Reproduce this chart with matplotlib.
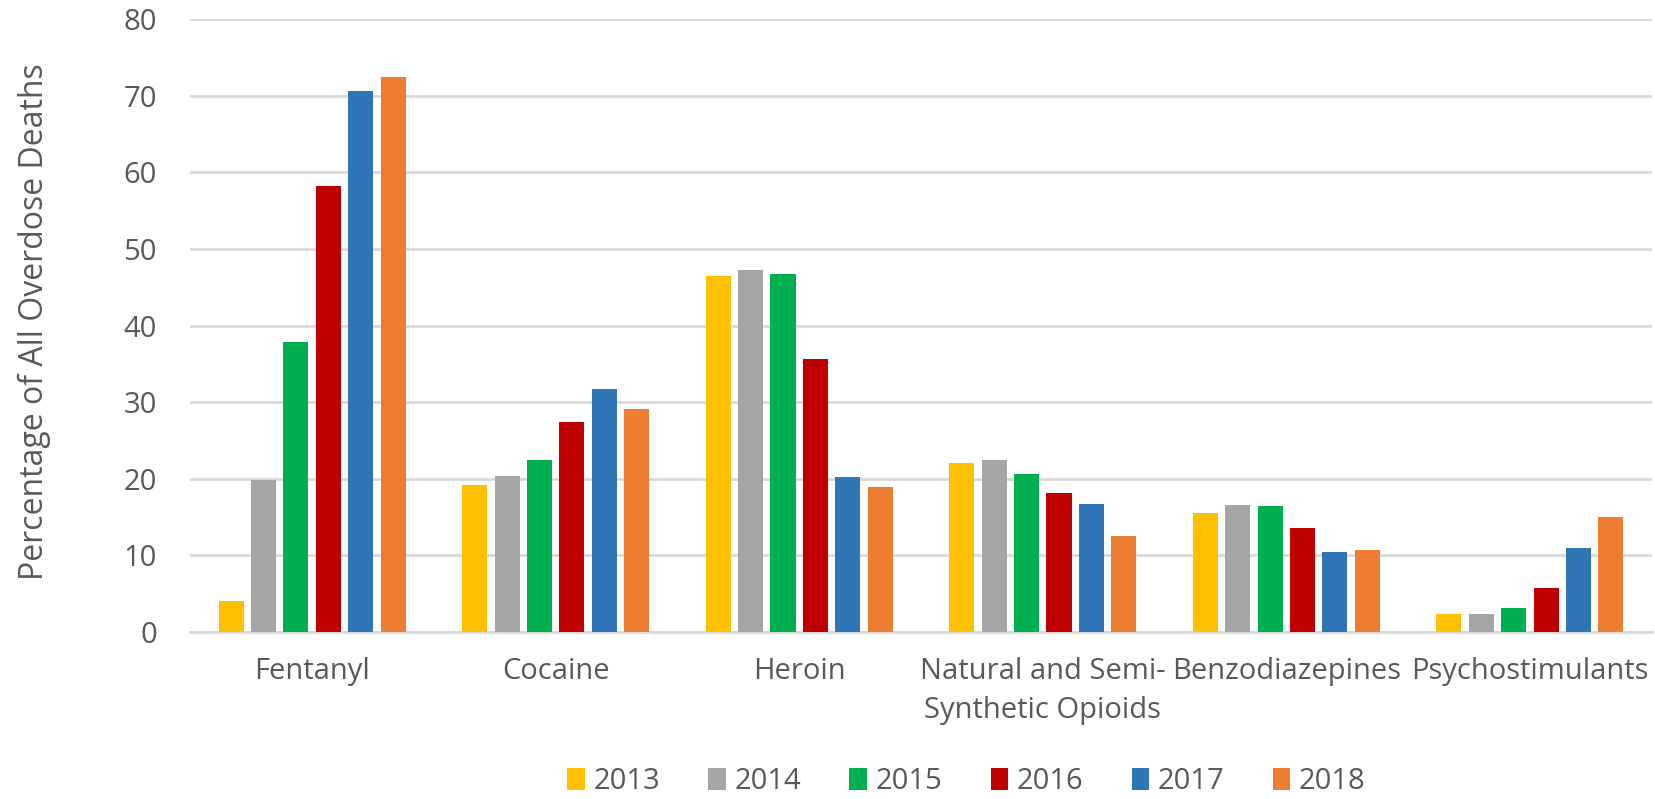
import numpy as np
import matplotlib.pyplot as plt

# Share of overdose deaths involving each drug, by year
drugs = ['Fentanyl', 'Cocaine', 'Heroin', 'Natural and Semi-\nSynthetic Opioids',
         'Benzodiazepines', 'Psychostimulants']
years = ['2013', '2014', '2015', '2016', '2017', '2018']
pct_2013 = [4.0, 19.2, 46.5, 22.0, 15.5, 2.3]
pct_2014 = [19.9, 20.4, 47.3, 22.5, 16.6, 2.3]
pct_2015 = [37.9, 22.5, 46.7, 20.6, 16.5, 3.1]
pct_2016 = [58.2, 27.4, 35.7, 18.1, 13.6, 5.7]
pct_2017 = [70.6, 31.7, 20.3, 16.7, 10.4, 11.0]
pct_2018 = [72.5, 29.1, 18.9, 12.5, 10.7, 15.0]
colors = ['#FFC000', '#A5A5A5', '#00B050', '#C00000', '#2E75B6', '#ED7D31']

series = [pct_2013, pct_2014, pct_2015, pct_2016, pct_2017, pct_2018]

plt.rcParams['font.family'] = ['Open Sans', 'DejaVu Sans']
txt = '#595959'
fs = 21

fig = plt.figure(figsize=(16.55, 7.99), dpi=100)
ax = fig.add_axes([0.115, 0.209, 0.883, 0.767])

x = np.arange(len(drugs))
pitch = 0.133
width = 0.103
for i, (vals, yr, c) in enumerate(zip(series, years, colors)):
    ax.bar(x + (i - 2.5) * pitch, vals, width, color=c, label=yr, zorder=3)

ax.set_xlim(-0.5, len(drugs) - 0.5)
ax.set_ylim(0, 80)
ax.set_yticks(range(0, 81, 10))
ax.grid(axis='y', color='#D9D9D9', linewidth=2, zorder=0)
for s in ['top', 'right', 'left']:
    ax.spines[s].set_visible(False)
ax.spines['bottom'].set_color('#D9D9D9')
ax.spines['bottom'].set_linewidth(2)
ax.tick_params(axis='both', length=0, colors=txt, labelsize=fs)
ax.tick_params(axis='x', pad=18)
ax.tick_params(axis='y', pad=24)
ax.set_xticks(x)
ax.set_xticklabels(drugs, va='top', linespacing=1.45)

fig.text(0.021, 0.597, 'Percentage of All Overdose Deaths', rotation=90,
         ha='center', va='center', fontsize=23, color=txt)

leg = fig.legend(loc='center', bbox_to_anchor=(0.584, 0.022), ncol=6, frameon=False,
                 fontsize=fs, handlelength=0.6, handleheight=0.8,
                 handletextpad=0.3, columnspacing=1.65)
for t in leg.get_texts():
    t.set_color(txt)

plt.savefig('out.png', dpi=100)
plt.close('all')
